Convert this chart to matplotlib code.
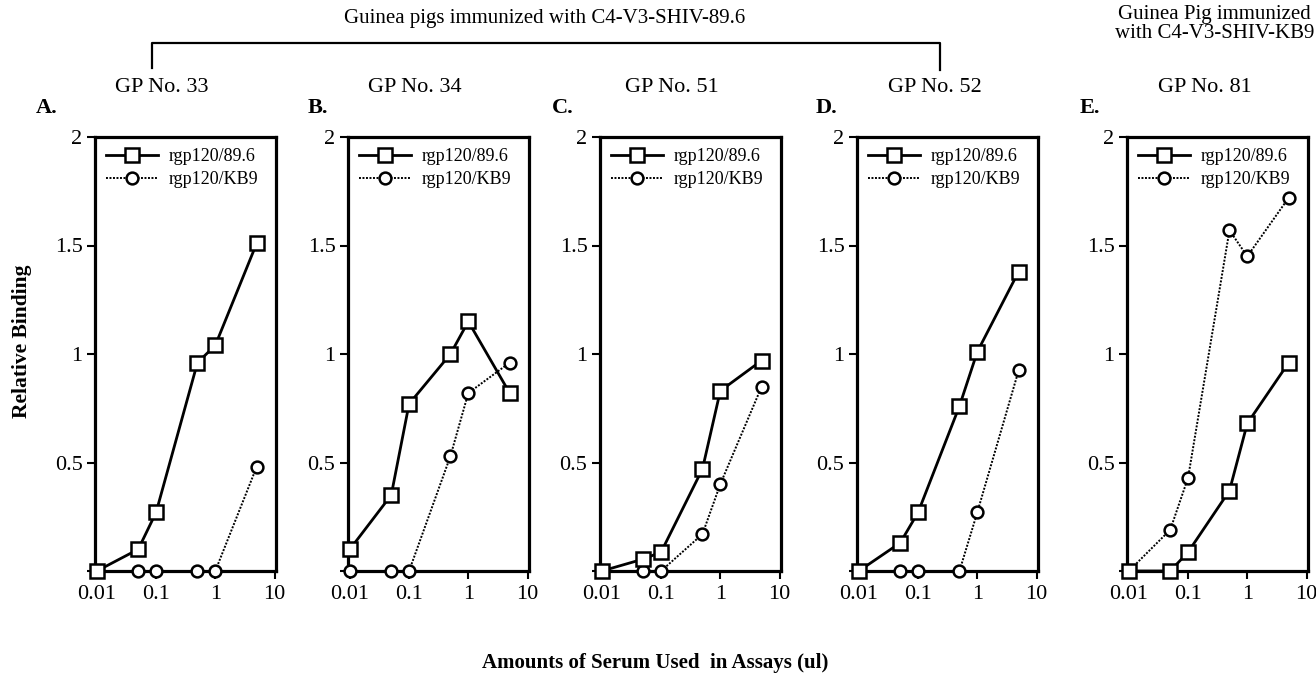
import matplotlib
matplotlib.use("Agg")
import matplotlib.pyplot as plt
from matplotlib.lines import Line2D

plt.rcParams['font.family'] = ['Liberation Serif', 'DejaVu Serif']

# serum amounts (ul)
doses = [0.01, 0.05, 0.1, 0.5, 1, 5]

panels = ['A.', 'B.', 'C.', 'D.', 'E.']
animals = ['GP No. 33', 'GP No. 34', 'GP No. 51', 'GP No. 52', 'GP No. 81']

# relative binding to rgp120/89.6
b_896 = [
    [0.0, 0.10, 0.27, 0.96, 1.04, 1.51],
    [0.10, 0.35, 0.77, 1.00, 1.15, 0.82],
    [0.0, 0.055, 0.087, 0.47, 0.83, 0.97],
    [0.0, 0.13, 0.27, 0.76, 1.01, 1.38],
    [0.0, 0.0, 0.087, 0.37, 0.68, 0.96],
]
# relative binding to rgp120/KB9
b_kb9 = [
    [0.0, 0.0, 0.0, 0.0, 0.0, 0.48],
    [0.0, 0.0, 0.0, 0.53, 0.82, 0.96],
    [0.0, 0.0, 0.0, 0.17, 0.40, 0.85],
    [0.0, 0.0, 0.0, 0.0, 0.27, 0.925],
    [0.0, 0.19, 0.43, 1.57, 1.45, 1.72],
]

W, H = 1316, 682
fig = plt.figure(figsize=(W / 100, H / 100), dpi=100)

lefts = [95, 348, 600, 857, 1127]
top_px, bot_px = 137, 571
gp_x = [162, 415, 672, 935, 1205]
letter_x = [47, 318, 563, 826, 1090]

for i in range(5):
    ax = fig.add_axes([lefts[i] / W, 1 - bot_px / H, 181 / W, (bot_px - top_px) / H])
    l2, = ax.plot(doses, b_kb9[i], color='black', lw=1.4, ls=(0, (1, 0.8)),
                  marker='o', ms=8.5, mfc='white', mec='black', mew=1.8,
                  clip_on=False, zorder=3, label='rgp120/KB9')
    l1, = ax.plot(doses, b_896[i], color='black', lw=2.0, ls='-',
                  marker='s', ms=9.5, mfc='white', mec='black', mew=1.8,
                  clip_on=False, zorder=4, label='rgp120/89.6')
    ax.set_xscale('log')
    ax.set_xlim(0.0093, 10.6)
    ax.set_ylim(0, 2)
    ax.set_xticks([0.01, 0.1, 1, 10])
    ax.set_xticklabels(['0.01', '0.1', '1', '10'])
    ax.xaxis.set_minor_locator(matplotlib.ticker.NullLocator())
    ax.set_yticks([0, 0.5, 1, 1.5, 2])
    ax.set_yticklabels(['', '0.5', '1', '1.5', '2'])
    ax.tick_params(axis='both', direction='out', length=6, width=1.5,
                   labelsize=16, pad=3)
    ax.tick_params(axis='x', pad=4)
    for s in ax.spines.values():
        s.set_linewidth(2.3)
    ax.legend(handles=[l1, l2], loc='upper left', frameon=False, fontsize=13,
              numpoints=1, handlelength=2.9, handletextpad=0.6,
              borderaxespad=0.2, labelspacing=0.35)
    fig.text(gp_x[i] / W, 1 - 88 / H, animals[i], ha='center', va='center', fontsize=16)
    fig.text(letter_x[i] / W, 1 - 108 / H, panels[i], ha='center', va='center',
             fontsize=16, fontweight='bold')

# group bracket and headings
fig.text(545 / W, 1 - 19 / H, 'Guinea pigs immunized with C4-V3-SHIV-89.6',
         ha='center', va='center', fontsize=15)
bx = [152 / W, 152 / W, 940 / W, 940 / W]
by = [1 - 68 / H, 1 - 43 / H, 1 - 43 / H, 1 - 70 / H]
fig.add_artist(Line2D(bx, by, color='black', lw=1.6, transform=fig.transFigure))
fig.text(1314 / W, 1 - 24 / H, 'Guinea Pig immunized\nwith C4-V3-SHIV-KB9',
         ha='right', va='center', multialignment='center', fontsize=15,
         linespacing=1.05)

fig.text(22 / W, 1 - 341 / H, 'Relative Binding', rotation=90, ha='center',
         va='center', fontsize=15.5, fontweight='bold')
fig.text(655 / W, 1 - 663 / H, 'Amounts of Serum Used  in Assays (ul)',
         ha='center', va='center', fontsize=15, fontweight='bold')

fig.savefig('out.png', dpi=100)
